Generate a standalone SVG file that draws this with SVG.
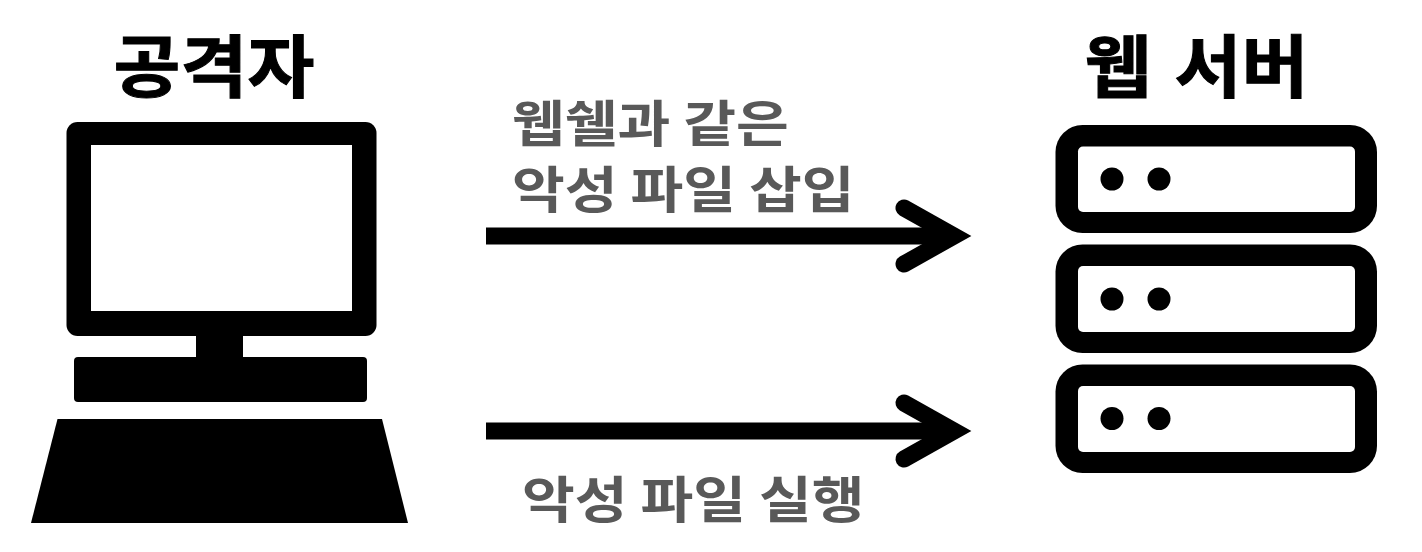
<svg xmlns="http://www.w3.org/2000/svg" width="1422" height="552" viewBox="0 0 1422 552">
<style>
text{font-family:"Noto Sans CJK KR","Noto Sans",sans-serif;font-weight:700}
.t{font-size:68px;fill:#000;stroke:#000;stroke-width:1;text-anchor:middle}
.l{font-size:50px;fill:#595959}
.outer{fill:#000}
.inner{fill:#fff}
.dot{fill:#000}
.shaft{fill:none;stroke:#000;stroke-width:17}
.head{fill:none;stroke:#000;stroke-width:17;stroke-linecap:round;stroke-linejoin:miter}
</style>
<rect width="1422" height="552" fill="#fff"/>
<g id="attacker">
<rect x="66.500" y="122" width="310" height="214" rx="11" fill="#000"/>
<rect x="91" y="145" width="261" height="166" fill="#fff"/>
<rect x="196" y="330" width="47" height="30" fill="#000"/>
<rect x="74" y="357" width="293" height="45" rx="4" fill="#000"/>
<polygon points="57.500,419 382,419 408,523 31,523" fill="#000"/>
<text class="t" transform="translate(214,92) scale(1.07,1)">공격자</text>
</g>
<g id="server">
<rect class="outer" x="1055.500" y="125" width="321.500" height="108" rx="27"/>
<rect class="inner" x="1078" y="146.500" width="277" height="65.500" rx="5"/>
<circle class="dot" cx="1112" cy="179" r="11.500"/><circle class="dot" cx="1159" cy="179" r="11.500"/>
<rect class="outer" x="1055.500" y="244.500" width="321.500" height="108.500" rx="27"/>
<rect class="inner" x="1078" y="266" width="277" height="66" rx="5"/>
<circle class="dot" cx="1112" cy="299" r="11.500"/><circle class="dot" cx="1159" cy="299" r="11.500"/>
<rect class="outer" x="1055.500" y="364.500" width="321.500" height="108.500" rx="27"/>
<rect class="inner" x="1078" y="386" width="277" height="66" rx="5"/>
<circle class="dot" cx="1112" cy="418.500" r="11.500"/><circle class="dot" cx="1159" cy="418.500" r="11.500"/>
<text class="t" style="word-spacing:6px" transform="translate(1196.500,92) scale(1.07,1)">웹 서버</text>
</g>
<g id="connectors">
<line class="shaft" x1="486" y1="236" x2="955" y2="236"/>
<polyline class="head" points="904,208 954,236 904,264"/>
<line class="shaft" x1="486" y1="431" x2="955" y2="431"/>
<polyline class="head" points="904,403 954,431 904,459"/>
</g>
<g id="labels">
<text class="l" transform="translate(512,0) scale(1.147,1)"><tspan x="0" y="142">웹쉘과 같은</tspan><tspan x="0" y="208">악성 파일 삽입</tspan></text>
<text class="l" transform="translate(522,518) scale(1.147,1)">악성 파일 실행</text>
</g>
</svg>
